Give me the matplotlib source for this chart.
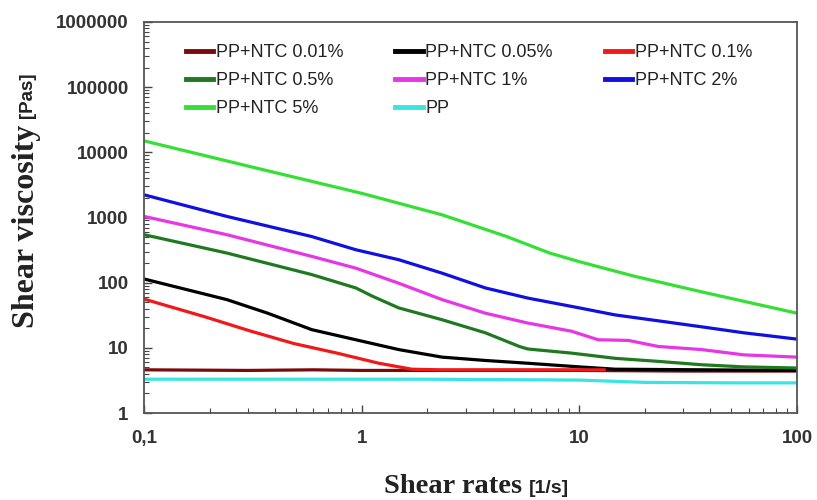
import matplotlib
matplotlib.use("Agg")
import matplotlib.pyplot as plt
from matplotlib.ticker import FixedLocator, NullFormatter, LogLocator

# shear rate [1/s] and viscosity [Pa s]
x_ntc001 = [0.1, 0.3, 0.6, 1, 3, 10, 30, 100]
y_ntc001 = [4.6, 4.5, 4.6, 4.5, 4.5, 4.5, 4.4, 4.4]

x_ntc005 = [0.1, 0.24, 0.37, 0.59, 0.94, 1.48, 2.34, 3.7, 5.8, 10, 14.6, 100]
y_ntc005 = [114, 55, 34, 19, 13.3, 9.4, 7.2, 6.4, 5.8, 5.1, 4.7, 4.5]

x_ntc01 = [0.1, 0.19, 0.31, 0.49, 0.77, 1.2, 1.7, 2.3, 5.8, 13]
y_ntc01 = [56, 30, 18, 11.6, 8.3, 5.8, 4.7, 4.6, 4.6, 4.6]

x_ntc05 = [0.1, 0.24, 0.59, 0.94, 1.12, 1.48, 2.34, 3.7, 5.3, 5.8, 9.2, 14.6, 23, 36.5, 57, 100]
y_ntc05 = [545, 285, 133, 83, 62, 41, 27, 17, 10.5, 9.6, 8.3, 6.9, 6.2, 5.5, 5.1, 4.9]

x_ntc1 = [0.1, 0.24, 0.59, 0.94, 1.48, 2.34, 3.7, 5.8, 9.2, 12.2, 16.8, 23, 36.5, 57, 100]
y_ntc1 = [1040, 545, 253, 167, 98, 55, 34, 24, 18, 13.3, 13, 10.5, 9.4, 7.8, 7.2]

x_ntc2 = [0.1, 0.24, 0.59, 0.94, 1.48, 2.34, 3.7, 5.8, 10, 14.6, 23, 36.5, 57, 100]
y_ntc2 = [2230, 1040, 510, 320, 225, 140, 83, 58, 41, 32, 26, 21, 17, 13.6]

x_ntc5 = [0.1, 0.31, 1, 2.34, 4.6, 7.3, 10, 18, 36, 100]
y_ntc5 = [15000, 6000, 2350, 1100, 515, 285, 210, 125, 73, 34]

x_pp = [0.1, 0.5, 2, 10, 20, 50, 100]
y_pp = [3.3, 3.3, 3.3, 3.2, 2.95, 2.9, 2.9]

labels = ["PP+NTC 0.01%", "PP+NTC 0.05%", "PP+NTC 0.1%",
          "PP+NTC 0.5%", "PP+NTC 1%", "PP+NTC 2%",
          "PP+NTC 5%", "PP"]
colors = ["#7a0a0a", "#000000", "#f01818", "#1f7a1f",
          "#e636e6", "#1010e0", "#33e033", "#3ae4e4"]
x_ticks = [0.1, 1, 10, 100]
x_ticklabels = ["0,1", "1", "10", "100"]
y_ticks = [1, 10, 100, 1000, 10000, 100000, 1000000]
y_ticklabels = ["1", "10", "100", "1000", "10000", "100000", "1000000"]

series = [(x_ntc001, y_ntc001), (x_ntc005, y_ntc005), (x_ntc01, y_ntc01),
          (x_ntc05, y_ntc05), (x_ntc1, y_ntc1), (x_ntc2, y_ntc2),
          (x_ntc5, y_ntc5), (x_pp, y_pp)]

fig = plt.figure(figsize=(8.17, 5.0), dpi=100)
ax = fig.add_axes([144/817, 1 - 413/500, 653/817, 391/500])

handles = []
for (xs, ys), lab, col in zip(series, labels, colors):
    h, = ax.plot(xs, ys, color=col, linewidth=2.3, label=lab)
    handles.append(h)

ax.set_xscale("log")
ax.set_yscale("log")
ax.set_xlim(0.1, 100)
ax.set_ylim(1, 1000000)

ax.xaxis.set_major_locator(FixedLocator(x_ticks))
ax.set_xticklabels(x_ticklabels)
ax.yaxis.set_major_locator(FixedLocator(y_ticks))
ax.set_yticklabels(y_ticklabels)
ax.xaxis.set_minor_locator(LogLocator(base=10, subs=range(2, 10)))
ax.yaxis.set_minor_locator(LogLocator(base=10, subs=range(2, 10)))
ax.xaxis.set_minor_formatter(NullFormatter())
ax.yaxis.set_minor_formatter(NullFormatter())

ax.tick_params(which="both", direction="in", top=False, right=False, color="#444")
ax.tick_params(which="major", length=6, width=1)
ax.tick_params(which="minor", length=3.5, width=0.8)
ax.tick_params(axis="x", which="major", pad=12)
ax.tick_params(axis="y", which="major", pad=11)
for lbl in ax.get_xticklabels() + ax.get_yticklabels():
    lbl.set_fontfamily("Liberation Sans")
    lbl.set_fontweight("bold")
    lbl.set_fontsize(13.5)
    lbl.set_color("#333333")

for sp in ax.spines.values():
    sp.set_color("#555555")
    sp.set_linewidth(1.3)

# Legende: zeilenweise wie im Original
order = [0, 3, 6, 1, 4, 7, 2, 5]
leg = ax.legend([handles[i] for i in order], [labels[i] for i in order],
                loc="upper left", bbox_to_anchor=(0.064, 0.943), ncol=3,
                frameon=False, borderpad=0, borderaxespad=0,
                handlelength=1.5, handletextpad=0.15, labelspacing=0.6,
                columnspacing=2.9,
                prop={"family": "Liberation Sans", "size": 13})
for line in leg.get_lines():
    line.set_linewidth(3.5)
for t in leg.get_texts():
    t.set_color("#222222")

# Achsentitel (gemischte Schriften)
fig.text(522/817, 0.014, "Shear rates", ha="right", va="baseline",
         family="Liberation Serif", weight="bold", fontsize=20.5, color="#222")
fig.text(529/817, 0.014, "[1/s]", ha="left", va="baseline",
         family="Liberation Sans", weight="bold", fontsize=14, color="#222")
fig.text(34/817, 1 - 328/500, "Shear viscosity", rotation=90, rotation_mode="anchor",
         ha="left", va="baseline",
         family="Liberation Serif", weight="bold", fontsize=23, color="#222")
fig.text(32/817, 1 - 118/500, "[Pas]", rotation=90, rotation_mode="anchor",
         ha="left", va="baseline",
         family="Liberation Sans", weight="bold", fontsize=13.5, color="#222")

fig.savefig("out.png", dpi=100)
